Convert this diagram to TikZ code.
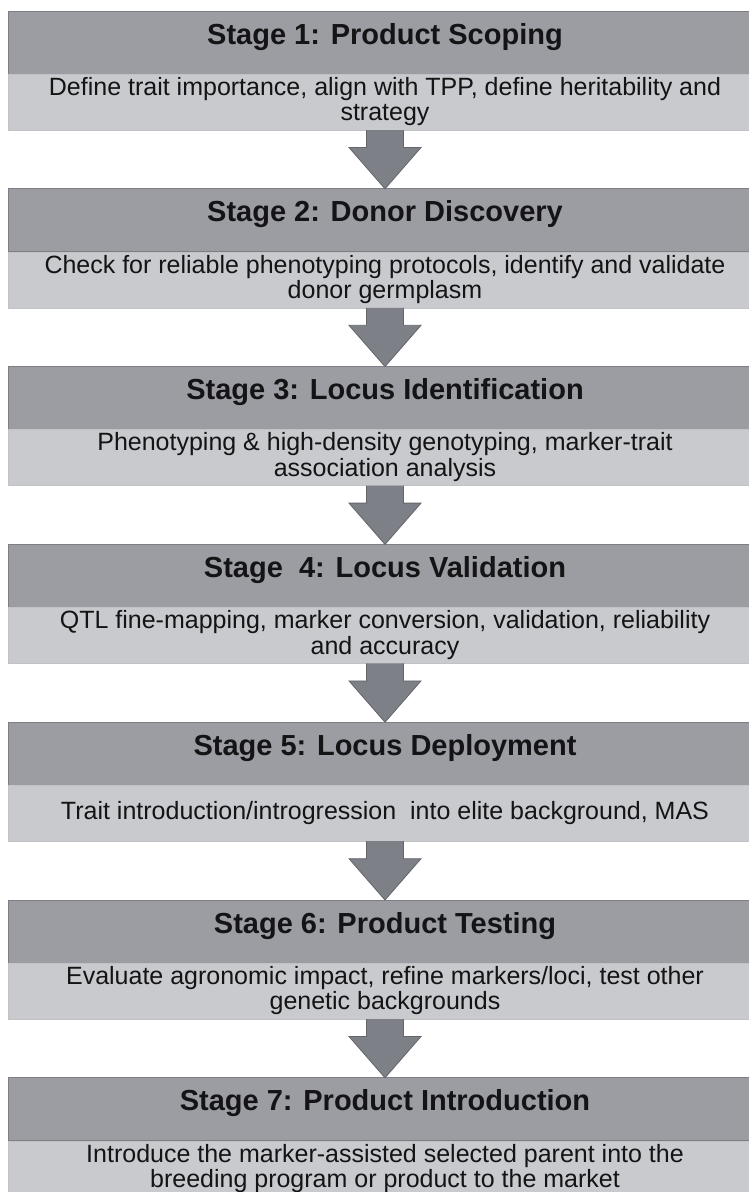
\documentclass[tikz,border=0pt]{standalone}
\usepackage{fontspec}
\setmainfont{Liberation Sans}
\usetikzlibrary{calc}
\definecolor{hdrfill}{RGB}{155,157,163}
\definecolor{hdrline}{RGB}{125,127,133}
\definecolor{bodyfill}{RGB}{201,202,205}
\definecolor{arrfill}{RGB}{126,128,135}
\definecolor{arrline}{RGB}{100,102,108}
\definecolor{txt}{RGB}{20,20,22}
\tikzset{
  x=1pt, y=1pt,
  hdrbox/.style={draw=hdrline, line width=0.8pt, fill=hdrfill, minimum width=754pt, minimum height=63pt, inner sep=0pt, outer sep=0pt, anchor=north},
  bodybox/.style={draw=bodyfill!96!black, line width=0.4pt, fill=bodyfill, minimum width=754pt, minimum height=56pt, inner sep=0pt, outer sep=0pt, anchor=north},
  hdrtext/.style={font=\fontsize{29}{30}\selectfont\bfseries, text=txt, inner sep=0pt, anchor=base},
  bodytext/.style={font=\fontsize{25}{25.5}\selectfont, text=txt, align=center, inner sep=0pt},
  bigarrow/.style={draw=arrline, line width=0.8pt, fill=arrfill, line join=miter}
}
\newcommand{\stagebox}[4]{%
  \node[hdrbox] (h#1) at (385,-#2) {};
  \node[hdrtext] (t#1) at ($(h#1.north)+(0,-33)$) {#3};
  \node[bodybox] (b#1) at (h#1.south) {};
  \node[bodytext] (d#1) at ($(b#1.center)+(0,0.5)$) {#4};
}
\newcommand{\stagearrow}[2]{%
  \draw[bigarrow] ($(b#1.south)+(-18.5,0)$) -- ($(b#1.south)+(-18.5,-17.5)$) -- ($(b#1.south)+(-36,-17.5)$) -- (h#2.north) -- ($(b#1.south)+(36,-17.5)$) -- ($(b#1.south)+(18.5,-17.5)$) -- ($(b#1.south)+(18.5,0)$);
}
\begin{document}
\begin{tikzpicture}
\useasboundingbox (0,0) rectangle (749,-1192);
\clip (0,0) rectangle (749,-1192);
\fill[white] (0,0) rectangle (749,-1192);
\stagebox{1}{11}{Stage 1: Product Scoping}{Define trait importance, align with TPP, define heritability and\\strategy}
\stagebox{2}{188.8}{Stage 2: Donor Discovery}{Check for reliable phenotyping protocols, identify and validate\\donor germplasm}
\stagebox{3}{366.6}{Stage 3: Locus Identification}{Phenotyping \& high-density genotyping, marker-trait\\association analysis}
\stagebox{4}{544.4}{Stage\ \ 4: Locus Validation}{QTL fine-mapping, marker conversion, validation, reliability\\and accuracy}
\stagebox{5}{722.2}{Stage 5: Locus Deployment}{Trait introduction/introgression\ \ into elite background, MAS}
\stagebox{6}{900}{Stage 6: Product Testing}{Evaluate agronomic impact, refine markers/loci, test other\\genetic backgrounds}
\stagebox{7}{1077.8}{Stage 7: Product Introduction}{Introduce the marker-assisted selected parent into the\\breeding program or product to the market}
\stagearrow{1}{2}
\stagearrow{2}{3}
\stagearrow{3}{4}
\stagearrow{4}{5}
\stagearrow{5}{6}
\stagearrow{6}{7}
\end{tikzpicture}
\end{document}
